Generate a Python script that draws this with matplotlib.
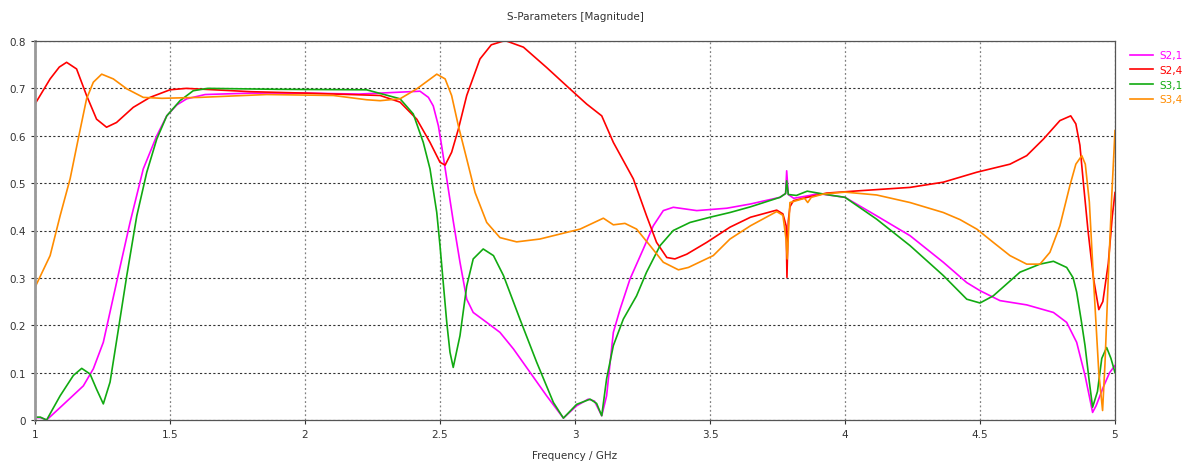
import numpy as np
import matplotlib.pyplot as plt

# S2,1 (magenta)
f_s21 = [1.0, 1.02, 1.043, 1.1, 1.179, 1.216, 1.253, 1.302, 1.352, 1.401, 1.451, 1.488, 1.525,
         1.562, 1.63, 1.8, 2.0, 2.2, 2.352, 2.426, 2.457, 2.475, 2.494, 2.506, 2.525, 2.549, 2.574,
         2.599, 2.623, 2.673, 2.722, 2.772, 2.833, 2.895, 2.957, 3.006, 3.049, 3.072, 3.099, 3.117,
         3.142, 3.167, 3.204, 3.253, 3.29, 3.327, 3.364, 3.451, 3.562, 3.65, 3.759, 3.78, 3.784,
         3.79, 3.81, 3.87, 3.9, 4.0, 4.117, 4.241, 4.364, 4.451, 4.5, 4.574, 4.673, 4.772, 4.821,
         4.858, 4.889, 4.905, 4.917, 4.93, 4.957, 4.98, 5.0]
s21 = [0.005, 0.005, 0.0, 0.03, 0.072, 0.108, 0.164, 0.29, 0.417, 0.53, 0.6, 0.642, 0.665,
       0.678, 0.687, 0.69, 0.69, 0.688, 0.692, 0.694, 0.681, 0.663, 0.621, 0.579, 0.509, 0.42, 0.333,
       0.255, 0.227, 0.206, 0.185, 0.15, 0.101, 0.051, 0.004, 0.03, 0.044, 0.04, 0.009, 0.051,
       0.185, 0.234, 0.298, 0.361, 0.41, 0.442, 0.449, 0.442, 0.447, 0.456, 0.47, 0.478, 0.526,
       0.476, 0.468, 0.474, 0.478, 0.47, 0.431, 0.389, 0.333, 0.29, 0.273, 0.252, 0.243, 0.227,
       0.206, 0.164, 0.094, 0.05, 0.016, 0.03, 0.07, 0.1, 0.115]

# S2,4 (red)
f_s24 = [1.0, 1.056, 1.09, 1.117, 1.154, 1.191, 1.228, 1.265, 1.302, 1.364, 1.426, 1.5, 1.56, 1.8,
         2.0, 2.278, 2.352, 2.414, 2.463, 2.5, 2.519, 2.543, 2.568, 2.599, 2.648, 2.69, 2.741,
         2.809, 2.895, 2.981, 3.043, 3.099, 3.142, 3.216, 3.265, 3.302, 3.34, 3.37, 3.414, 3.488,
         3.574, 3.65, 3.747, 3.77, 3.782, 3.785, 3.79, 3.796, 3.809, 3.86, 3.932, 4.056, 4.241,
         4.364, 4.488, 4.611, 4.673, 4.735, 4.796, 4.836, 4.855, 4.87, 4.883, 4.9, 4.92, 4.94,
         4.955, 4.975, 4.99, 5.0]
s24 = [0.667, 0.72, 0.745, 0.755, 0.741, 0.685, 0.635, 0.618, 0.628, 0.66, 0.681, 0.697, 0.7, 0.693,
       0.69, 0.685, 0.671, 0.635, 0.586, 0.544, 0.538, 0.565, 0.614, 0.685, 0.762, 0.792, 0.801,
       0.787, 0.744, 0.699, 0.667, 0.642, 0.586, 0.509, 0.431, 0.375, 0.343, 0.34, 0.35, 0.375,
       0.407, 0.428, 0.443, 0.435, 0.41, 0.301, 0.42, 0.45, 0.463, 0.47, 0.479, 0.484, 0.491,
       0.502, 0.523, 0.54, 0.558, 0.593, 0.632, 0.642, 0.625, 0.58, 0.5, 0.4, 0.3, 0.233,
       0.25, 0.33, 0.43, 0.48]

# S3,1 (green)
f_s31 = [1.0, 1.02, 1.043, 1.093, 1.142, 1.173, 1.204, 1.228, 1.253, 1.278, 1.309, 1.34, 1.377,
         1.414, 1.451, 1.488, 1.537, 1.586, 1.64, 1.9, 2.228, 2.352, 2.401, 2.438, 2.463, 2.488,
         2.5, 2.512, 2.525, 2.537, 2.549, 2.574, 2.599, 2.623, 2.66, 2.698, 2.735, 2.796, 2.858,
         2.92, 2.957, 3.006, 3.056, 3.08, 3.099, 3.117, 3.142, 3.179, 3.228, 3.265, 3.315, 3.364,
         3.426, 3.5, 3.574, 3.65, 3.759, 3.78, 3.784, 3.79, 3.82, 3.86, 3.93, 4.0, 4.117, 4.241,
         4.364, 4.451, 4.5, 4.549, 4.648, 4.722, 4.772, 4.821, 4.845, 4.858, 4.875, 4.889, 4.905,
         4.917, 4.935, 4.951, 4.969, 4.985, 5.0]
s31 = [0.006, 0.006, 0.0, 0.051, 0.094, 0.109, 0.097, 0.065, 0.034, 0.08, 0.192, 0.305, 0.431,
       0.523, 0.593, 0.642, 0.674, 0.695, 0.7, 0.698, 0.697, 0.678, 0.646, 0.586, 0.53, 0.438,
       0.368, 0.29, 0.206, 0.143, 0.111, 0.178, 0.283, 0.34, 0.361, 0.347, 0.305, 0.213, 0.122,
       0.037, 0.004, 0.033, 0.044, 0.035, 0.009, 0.087, 0.157, 0.213, 0.262, 0.312, 0.368, 0.4,
       0.417, 0.428, 0.438, 0.45, 0.47, 0.478, 0.505, 0.476, 0.474, 0.483, 0.476, 0.47, 0.424,
       0.368, 0.305, 0.255, 0.247, 0.262, 0.312, 0.329, 0.335, 0.322, 0.3, 0.27, 0.21, 0.157,
       0.08, 0.027, 0.06, 0.13, 0.153, 0.13, 0.1]

# S3,4 (orange)
f_s34 = [1.0, 1.056, 1.093, 1.13, 1.16, 1.191, 1.216, 1.247, 1.29, 1.34, 1.401, 1.47, 1.611, 1.858,
         2.105, 2.228, 2.278, 2.352, 2.414, 2.488, 2.519, 2.543, 2.568, 2.599, 2.63, 2.673, 2.722,
         2.784, 2.87, 2.969, 3.019, 3.105, 3.142, 3.185, 3.228, 3.278, 3.327, 3.383, 3.42, 3.512,
         3.574, 3.65, 3.747, 3.77, 3.782, 3.786, 3.796, 3.85, 3.862, 3.875, 3.92, 4.0, 4.117, 4.241,
         4.364, 4.426, 4.488, 4.549, 4.611, 4.673, 4.722, 4.759, 4.796, 4.833, 4.855, 4.877, 4.89,
         4.905, 4.92, 4.94, 4.954, 4.963, 4.975, 4.988, 5.0]
s34 = [0.28, 0.347, 0.431, 0.509, 0.593, 0.678, 0.713, 0.73, 0.72, 0.699, 0.681, 0.679, 0.681, 0.687,
       0.685, 0.676, 0.674, 0.678, 0.699, 0.73, 0.72, 0.685, 0.621, 0.551, 0.48, 0.417, 0.385,
       0.376, 0.382, 0.396, 0.403, 0.426, 0.412, 0.415, 0.403, 0.368, 0.333, 0.317, 0.322, 0.347,
       0.382, 0.41, 0.44, 0.432, 0.38, 0.34, 0.459, 0.468, 0.459, 0.47, 0.477, 0.481, 0.475, 0.459,
       0.438, 0.423, 0.403, 0.375, 0.347, 0.329, 0.329, 0.354, 0.41, 0.495, 0.54, 0.558, 0.54,
       0.46, 0.3, 0.1, 0.02, 0.12, 0.3, 0.473, 0.611]

series = [('S2,1', f_s21, s21, '#ff00ff'),
          ('S2,4', f_s24, s24, '#ff0000'),
          ('S3,1', f_s31, s31, '#11aa11'),
          ('S3,4', f_s34, s34, '#ff8c00')]

fig = plt.figure(figsize=(11.91, 4.64), dpi=100)
ax = fig.add_axes([35 / 1191, 43 / 464, 1080 / 1191, 379 / 464])

for name, f, s, c in series:
    ax.plot(f, s, color=c, lw=1.2, label=name, solid_joinstyle='round')

ax.set_xlim(1, 5)
ax.set_ylim(0, 0.8)
ax.set_xticks(np.arange(1, 5.01, 0.5))
ax.set_xticklabels(['1', '1.5', '2', '2.5', '3', '3.5', '4', '4.5', '5'])
ax.set_yticks(np.arange(0, 0.81, 0.1))
ax.set_yticklabels(['0', '0.1', '0.2', '0.3', '0.4', '0.5', '0.6', '0.7', '0.8'])
ax.tick_params(labelsize=7.5, length=3, width=0.8, colors='#333333')

ax.xaxis.grid(True, color='#808080', linestyle=(0, (1.5, 2)), lw=0.9)
ax.yaxis.grid(True, color='#333333', linestyle=(0, (2, 2)), lw=0.8)

ax.spines['left'].set_color('#999999')
ax.spines['left'].set_linewidth(2)
for side in ['top', 'right', 'bottom']:
    ax.spines[side].set_color('#555555')
    ax.spines[side].set_linewidth(0.9)

ax.set_title('S-Parameters [Magnitude]', fontsize=7.5, color='#333333', pad=16)
ax.set_xlabel('Frequency / GHz', fontsize=7.5, color='#333333', labelpad=8)

leg = ax.legend(loc='upper left', bbox_to_anchor=(1.005, 1.0), frameon=False, fontsize=7.5,
                labelcolor='linecolor', handlelength=2.2, handletextpad=0.6, labelspacing=0.45)

fig.savefig('out.png', dpi=100)
